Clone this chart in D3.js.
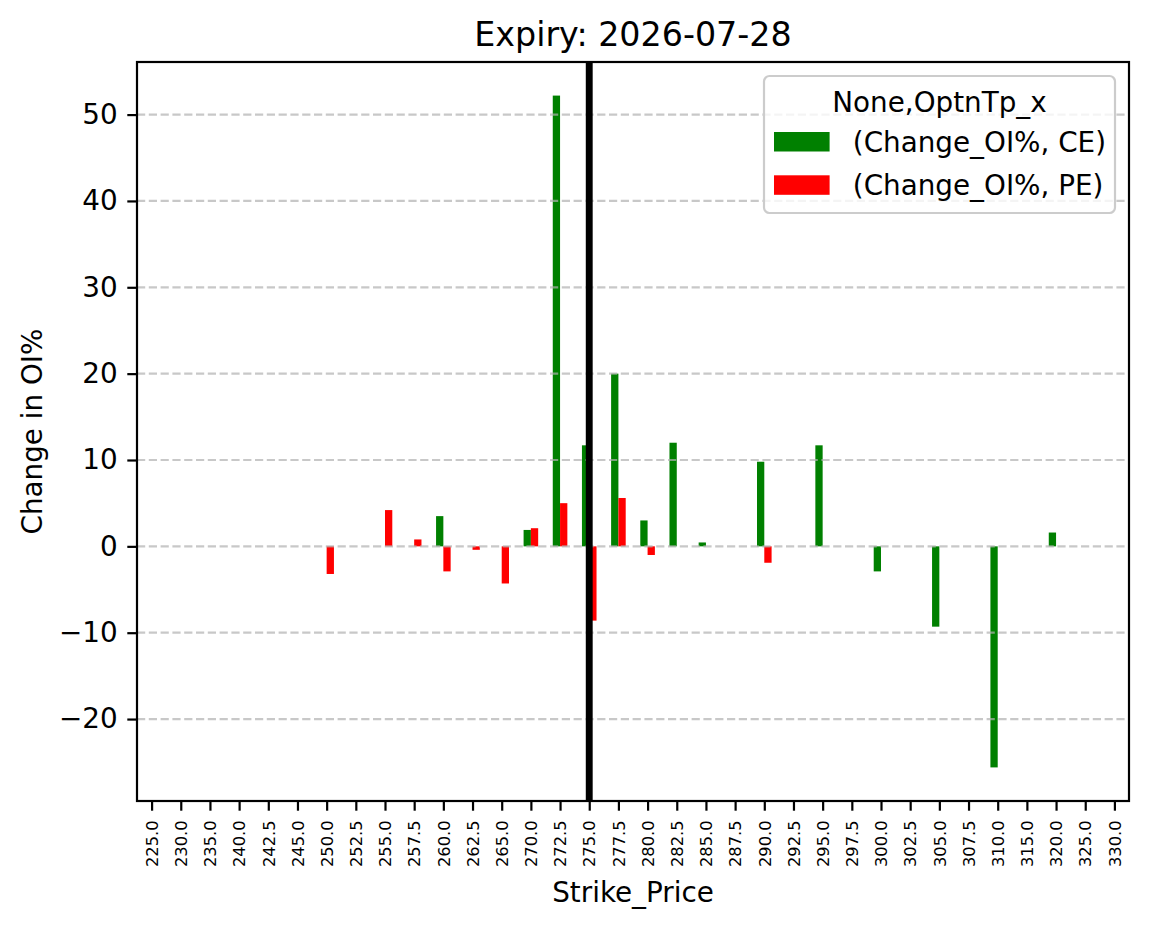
<html>
<head>
<script src="https://d3js.org/d3.v7.min.js"></script>
<style>
body { margin: 0; background: white; }
text { font-family: "DejaVu Sans", sans-serif; fill: black; }
</style>
</head>
<body>
<svg width="1149" height="928"></svg>
<script>
// strikes on the x axis
var strikes = ["225.0","230.0","235.0","240.0","242.5","245.0","250.0","252.5","255.0","257.5",
               "260.0","262.5","265.0","270.0","272.5","275.0","277.5","280.0","282.5","285.0",
               "287.5","290.0","292.5","295.0","297.5","300.0","302.5","305.0","307.5","310.0",
               "315.0","320.0","325.0","330.0"];
// (Change_OI%, CE)
var ceChange = [null,null,null,null,null,null,null,null,null,null,
                3.5,null,null,1.9,52.2,11.7,20.0,3.0,12.0,0.45,
                null,9.8,null,11.7,null,-2.9,null,-9.3,null,-25.6,
                null,1.6,null,null];
// (Change_OI%, PE)
var peChange = [null,null,null,null,null,null,-3.2,null,4.2,0.8,
                -2.9,-0.4,-4.3,2.1,5.0,-8.6,5.6,-1.0,null,null,
                null,-1.9,null,null,null,null,null,null,null,null,
                null,null,null,null];
var yTicks = [-20,-10,0,10,20,30,40,50];
var spotStrike = "275.0";
var legendTitle = "None,OptnTp_x";
var seriesNames = [" (Change_OI%, CE)", " (Change_OI%, PE)"];
var seriesColors = ["green", "red"];

var svg = d3.select("svg");
var pLeft = 137, pRight = 1129, pTop = 62, pBottom = 801;

var x = d3.scaleLinear().domain([-0.5, strikes.length - 0.5]).range([pLeft, pRight]);

var all = ceChange.concat(peChange).filter(function(v){ return v != null; });
var lo = d3.min(all), hi = d3.max(all), pad = (hi - lo) * 0.05;
var y = d3.scaleLinear().domain([lo - pad, hi + pad]).range([pBottom, pTop]);

var barW = x(0.25) - x(0);

// bars
[ceChange, peChange].forEach(function(vals, s) {
    svg.append("g").selectAll("rect")
        .data(vals.map(function(v, i){ return {i: i, v: v}; }).filter(function(d){ return d.v != null; }))
        .enter().append("rect")
        .attr("x", function(d){ return x(d.i - 0.25 + s * 0.25); })
        .attr("width", barW)
        .attr("y", function(d){ return y(Math.max(0, d.v)); })
        .attr("height", function(d){ return Math.abs(y(d.v) - y(0)); })
        .attr("fill", seriesColors[s]);
});

// grid over bars like matplotlib
svg.append("g").selectAll("line")
    .data(yTicks).enter().append("line")
    .attr("x1", pLeft).attr("x2", pRight)
    .attr("y1", function(d){ return y(d); }).attr("y2", function(d){ return y(d); })
    .attr("stroke", "#b0b0b0").attr("stroke-opacity", 0.7)
    .attr("stroke-width", 2.2).attr("stroke-dasharray", "8.2,3.6");

// spot line
var spotX = x(strikes.indexOf(spotStrike));
svg.append("line")
    .attr("x1", spotX).attr("x2", spotX).attr("y1", pTop).attr("y2", pBottom)
    .attr("stroke", "black").attr("stroke-width", 6.9);

// axes
var yAxis = svg.append("g").attr("transform", "translate(" + pLeft + ",0)")
    .call(d3.axisLeft(y).tickValues(yTicks).tickSize(9.7).tickPadding(9.7)
        .tickFormat(function(d){ return d < 0 ? "\u2212" + Math.abs(d) : d; }));
yAxis.select(".domain").remove();
yAxis.selectAll("line").attr("stroke-width", 2.2);
yAxis.selectAll("text").style("font-size", "27.8px").style("font-family", "DejaVu Sans");

var xAxis = svg.append("g").attr("transform", "translate(0," + pBottom + ")")
    .call(d3.axisBottom(x).tickValues(d3.range(strikes.length)).tickSize(9.7)
        .tickFormat(function(i){ return strikes[i]; }));
xAxis.select(".domain").remove();
xAxis.selectAll("line").attr("stroke-width", 2.2);
xAxis.selectAll("text")
    .attr("transform", "rotate(-90)")
    .attr("text-anchor", "end")
    .attr("x", -19.4).attr("y", 0).attr("dy", "0.35em")
    .style("font-size", "16.3px").style("font-family", "DejaVu Sans");

// frame
svg.append("rect").attr("x", pLeft).attr("y", pTop)
    .attr("width", pRight - pLeft).attr("height", pBottom - pTop)
    .attr("fill", "none").attr("stroke", "black").attr("stroke-width", 2.2);

// titles
svg.append("text").attr("x", (pLeft + pRight) / 2).attr("y", 46)
    .attr("text-anchor", "middle").style("font-size", "33.3px").text("Expiry: 2026-07-28");
svg.append("text").attr("x", (pLeft + pRight) / 2).attr("y", 902)
    .attr("text-anchor", "middle").style("font-size", "27.8px").text("Strike_Price");
svg.append("text").attr("transform", "translate(42," + (pTop + pBottom) / 2 + ") rotate(-90)")
    .attr("text-anchor", "middle").style("font-size", "27.8px").text("Change in OI%");

// legend
var lg = svg.append("g");
lg.append("rect").attr("x", 764).attr("y", 76).attr("width", 351).attr("height", 137)
    .attr("rx", 5.5).attr("fill", "white").attr("fill-opacity", 0.8)
    .attr("stroke", "#cccccc").attr("stroke-width", 2.2);
lg.append("text").attr("x", 939.5).attr("y", 112).attr("text-anchor", "middle")
    .style("font-size", "27.8px").text(legendTitle);
seriesNames.forEach(function(name, s) {
    lg.append("rect").attr("x", 774).attr("y", 132 + s * 43.3).attr("width", 55.6).attr("height", 19.5)
        .attr("fill", seriesColors[s]);
    lg.append("text").attr("x", 844).attr("y", 152 + s * 43.3)
        .style("font-size", "27.8px").style("white-space", "pre").attr("xml:space", "preserve").text(name);
});
</script>
</body>
</html>
